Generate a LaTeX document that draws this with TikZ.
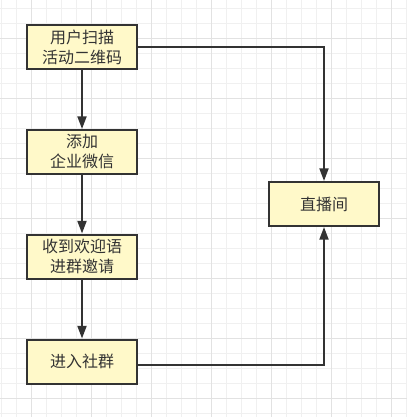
\documentclass[tikz,border=0pt]{standalone}
\usepackage{fontspec}
\setmainfont{Noto Sans CJK SC}
\usetikzlibrary{arrows.meta}
\definecolor{minorgrid}{HTML}{F0F0F0}
\definecolor{majorgrid}{HTML}{E2E2E2}
\definecolor{boxfill}{HTML}{FFF9C9}
\definecolor{ink}{HTML}{333333}
\begin{document}
\begin{tikzpicture}[x=0.75pt,y=-0.75pt,
  stepbox/.style={draw=ink, line width=1.5pt, fill=boxfill, minimum width=82.5pt,
    minimum height=33pt, inner sep=0pt, align=center,
    font=\fontsize{12}{15}\selectfont, text=ink},
  arr/.style={draw=ink, line width=1.5pt, -{Triangle[length=9.5pt,width=6.75pt]}},
  gridminor/.style={draw=minorgrid, line width=0.75pt},
  gridmajor/.style={draw=majorgrid, line width=0.75pt}]
\useasboundingbox (0,0) rectangle (407,417);
\fill[white] (0,0) rectangle (407,417);
\foreach \i in {0,...,27} \draw[gridminor] ({1.7+15*\i},0) -- ({1.7+15*\i},417);
\foreach \i in {0,...,27} \draw[gridminor] (0,{8.3+15*\i}) -- (407,{8.3+15*\i});
\foreach \i in {0,...,6} \draw[gridmajor] ({31.7+60*\i},0) -- ({31.7+60*\i},417);
\foreach \i in {0,...,6} \draw[gridmajor] (0,{38.3+60*\i}) -- (407,{38.3+60*\i});

\node[stepbox] (b1) at (82,47) {用户扫描\\活动二维码};
\node[stepbox] (b2) at (82,152) {添加\\企业微信};
\node[stepbox] (b3) at (82,256.5) {收到欢迎语\\进群邀请};
\node[stepbox] (b4) at (82,361.5) {进入社群};
\node[stepbox] (b5) at (324,204) {直播间};

\draw[arr] (b1) -- (b2);
\draw[arr] (b2) -- (b3);
\draw[arr] (b3) -- (b4);
\draw[arr] (b1.east) -| (b5.north);
\draw[arr] ([yshift=-2.6pt]b4.east) -| (b5.south);
\end{tikzpicture}
\end{document}
